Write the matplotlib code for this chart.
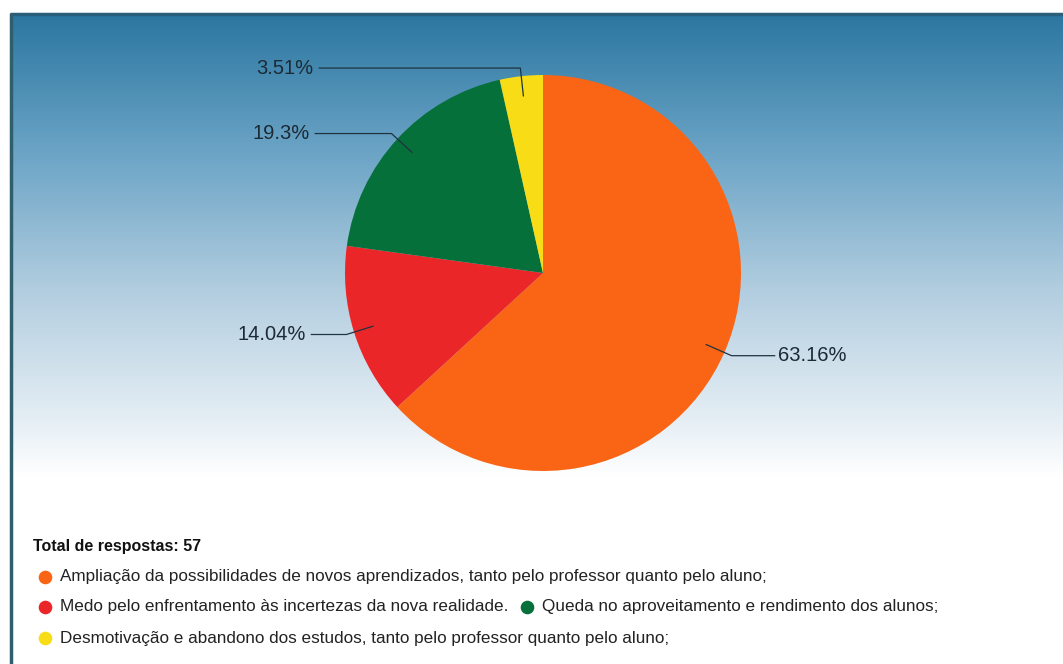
import numpy as np
import matplotlib.pyplot as plt
from matplotlib.colors import LinearSegmentedColormap

# data
categorias = [
    "Ampliação da possibilidades de novos aprendizados, tanto pelo professor quanto pelo aluno;",
    "Medo pelo enfrentamento às incertezas da nova realidade.",
    "Queda no aproveitamento e rendimento dos alunos;",
    "Desmotivação e abandono dos estudos, tanto pelo professor quanto pelo aluno;",
]
percentuais = [63.16, 14.04, 19.3, 3.51]
rotulos = ["63.16%", "14.04%", "19.3%", "3.51%"]
cores = ["#F96515", "#EB2629", "#06703B", "#F8DD16"]
total_respostas = 57

W, H = 1063, 664
plt.rcParams['font.family'] = ['Liberation Sans', 'DejaVu Sans']
fig = plt.figure(figsize=(W / 100, H / 100), dpi=100)

# background with gradient
ax_bg = fig.add_axes([0, 0, 1, 1])
ax_bg.set_xlim(0, W)
ax_bg.set_ylim(H, 0)
ax_bg.axis('off')
grad = LinearSegmentedColormap.from_list(
    'bg', [(0.0, '#2C77A1'), (0.29, '#6AA3C5'), (0.6, '#B3CEE0'),
           (0.86, '#E2ECF3'), (1.0, '#FFFFFF')])
ys = np.linspace(0, 1, 400).reshape(-1, 1)
ax_bg.imshow(grad(ys), extent=[12, W, 478, 15], aspect='auto', zorder=0)
ax_bg.plot([10, W], [13.5, 13.5], color='#2B5E78', lw=2.5, zorder=2,
           solid_capstyle='butt')
ax_bg.plot([10.5, 10.5], [13, H], color='#2F5F6C', lw=2.5, zorder=2,
           solid_capstyle='butt')

# pie
cx, cy, r = 543, 273, 198
ax = fig.add_axes([(cx - r) / W, (H - cy - r) / H, 2 * r / W, 2 * r / H])
wedges, _ = ax.pie(percentuais, colors=cores, startangle=90, counterclock=False,
                   radius=1, wedgeprops=dict(linewidth=0))
ax.set_xlim(-1, 1)
ax.set_ylim(-1, 1)
ax.set_aspect('equal')
ax.axis('off')

# label positions (end of horizontal leader, in radius units)
label_x = [1.17, -1.17, -1.15, -1.13]
for w, lab, lx in zip(wedges, rotulos, label_x):
    ang = np.deg2rad((w.theta1 + w.theta2) / 2)
    x0, y0 = 0.9 * np.cos(ang), 0.9 * np.sin(ang)
    x1, y1 = 1.04 * np.cos(ang), 1.04 * np.sin(ang)
    if lab == "3.51%":
        y1 = 1.035
    ax.plot([x0, x1, lx], [y0, y1, y1], color='#1f3340', lw=0.9, clip_on=False)
    ha = 'left' if lx > 0 else 'right'
    ax.text(lx + (0.015 if lx > 0 else -0.03), y1, lab, ha=ha, va='center',
            fontsize=14.5, color='#1c2a35', clip_on=False)

# legend
ax_bg.text(33, 547, f"Total de respostas: {total_respostas}", fontsize=11.5,
           fontweight='bold', color='#111111', va='center', ha='left')
fig.canvas.draw()
renderer = fig.canvas.get_renderer()
linhas = [[0], [1, 2], [3]]
y_row = [577, 607, 638]
for row, yy in zip(linhas, y_row):
    x = 45
    for i in row:
        ax_bg.plot(x, yy, 'o', ms=9.8, color=cores[i], mec='none', zorder=3)
        t = ax_bg.text(x + 15, yy, categorias[i], fontsize=12.3, color='#222222',
                       va='center', ha='left')
        bb = t.get_window_extent(renderer)
        x = bb.x1 + 19

fig.savefig('out.png', dpi=100)
